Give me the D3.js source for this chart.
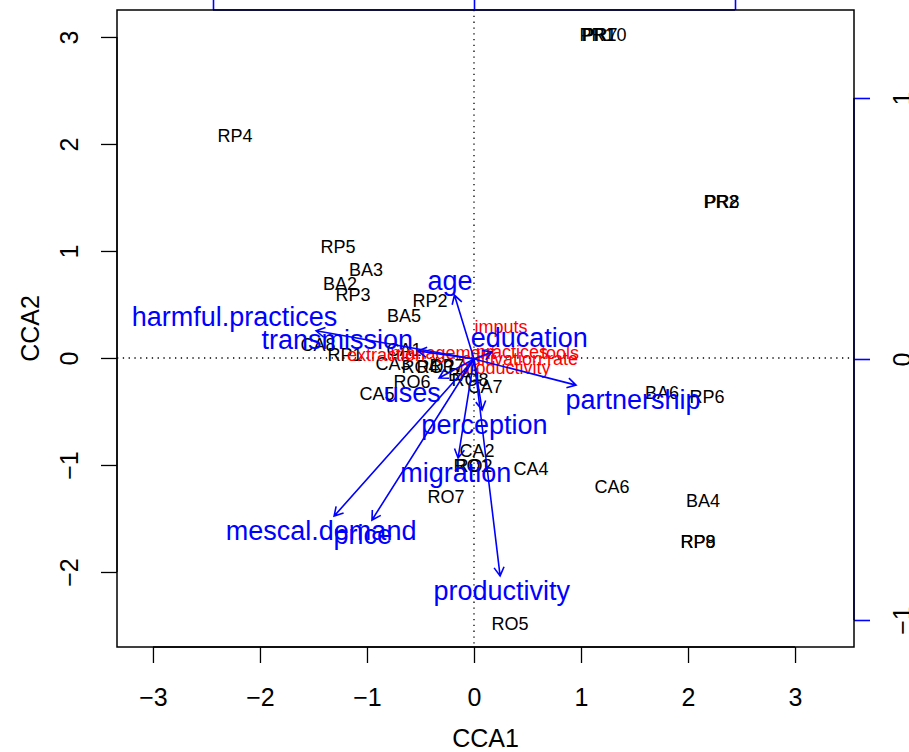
<!DOCTYPE html>
<html>
<head>
<meta charset="utf-8">
<script src="https://cdn.jsdelivr.net/npm/d3@7"></script>
<style>
  body { margin: 0; background: #fff; }
  text { font-family: "Liberation Sans", Arial, Helvetica, sans-serif; }
</style>
</head>
<body>
<svg id="cca-plot" width="909" height="752"></svg>
<script>
// site scores (black)
var siteNames = ["RP4","PR1","PR7","PR10","PR2","PR8","RP5","BA3","BA2","RP3","RP2","BA5",
  "CA8","RP1","CA1","CA3","RO4","RO3","RP7","BA1","RO8","CA7","RO6","CA5",
  "CA2","RO1","RO2","CA4","RO7","CA6","BA6","RP6","BA4","RP8","RP9","RO5"];
var siteCCA1 = [-2.234, 1.150, 1.178, 1.215, 2.308, 2.318, -1.271, -1.009, -1.252, -1.131, -0.411, -0.654,
  -1.458, -1.206, -0.654, -0.757, -0.505, -0.364, -0.252, -0.084, -0.037, 0.103, -0.579, -0.907,
  0.028, -0.019, 0.000, 0.533, -0.262, 1.290, 1.757, 2.178, 2.140, 2.093, 2.093, 0.336];
var siteCCA2 = [2.075, 3.019, 3.019, 3.019, 1.458, 1.458, 1.037, 0.822, 0.692, 0.589, 0.533, 0.393,
  0.121, 0.028, 0.075, -0.056, -0.084, -0.084, -0.075, -0.159, -0.206, -0.271, -0.224, -0.336,
  -0.869, -1.009, -1.009, -1.037, -1.299, -1.206, -0.327, -0.364, -1.336, -1.720, -1.720, -2.486];

// species scores (red)
var speciesNames = ["imputs","extraction","management","practices","tools","cultivation.rate","productivity"];
var speciesCCA1 = [0.252, -0.822, -0.290, 0.355, 0.804, 0.430, 0.290];
var speciesCCA2 = [0.290, 0.030, 0.050, 0.056, 0.047, -0.010, -0.093];

// biplot arrows (blue, secondary axes)
var envNames = ["age","harmful.practices","transmission","education","partnership","uses",
  "perception","migration","mescal.demand","price","productivity"];
var envCCA1 = [-0.075, -0.605, -0.215, 0.069, 0.391, -0.134, 0.031, -0.061, -0.536, -0.391, 0.100];
var envCCA2 = [0.245, 0.108, 0.031, 0.027, -0.100, -0.073, -0.195, -0.379, -0.602, -0.617, -0.831];

var xTicks = [-3, -2, -1, 0, 1, 2, 3];
var yTicks = [-2, -1, 0, 1, 2, 3];
var envTicks = [-1, 0, 1];

var svg = d3.select("#cca-plot"),
    box = {left: 117, right: 854, top: 10, bottom: 647},
    blue = "#0000ff", red = "#ff0000",
    bigFont = 27, smallFont = 18;

var x = d3.scaleLinear().domain([-3.336, 3.551]).range([box.left, box.right]),
    y = d3.scaleLinear().domain([-2.701, 3.252]).range([box.bottom, box.top]),
    xb = d3.scaleLinear().domain([-1, 1]).range([213, 735]),
    yb = d3.scaleLinear().domain([-1, 1]).range([620, 98]);

var minus = function(d) { return d < 0 ? "\u2212" + Math.abs(d) : String(d); };

// dotted zero lines
svg.append("line")
  .attr("x1", box.left).attr("x2", box.right).attr("y1", y(0)).attr("y2", y(0))
  .attr("stroke", "#000").attr("stroke-width", 1.3).attr("stroke-dasharray", "1.3,4.5");
svg.append("line")
  .attr("x1", x(0)).attr("x2", x(0)).attr("y1", box.top).attr("y2", box.bottom)
  .attr("stroke", "#000").attr("stroke-width", 1.3).attr("stroke-dasharray", "1.3,4.5");

// bottom axis
var gx = svg.append("g").attr("transform", "translate(0," + box.bottom + ")")
  .call(d3.axisBottom(x).tickValues(xTicks).tickSize(16).tickSizeOuter(0).tickFormat(minus));
gx.select(".domain").attr("d", "M" + x(-3) + ",0H" + x(3));
gx.selectAll("line, path").attr("stroke", "#000").attr("stroke-width", 1.3);
gx.selectAll("text").attr("y", 50).attr("dy", "0.35em").attr("font-size", 25)
  .attr("fill", "#000");

// left axis, rotated labels
var gy = svg.append("g").attr("transform", "translate(" + box.left + ",0)")
  .call(d3.axisLeft(y).tickValues(yTicks).tickSize(16).tickSizeOuter(0).tickFormat(minus));
gy.select(".domain").attr("d", "M0," + y(-2) + "V" + y(3));
gy.selectAll("line, path").attr("stroke", "#000").attr("stroke-width", 1.3);
gy.selectAll("text")
  .attr("transform", "rotate(-90)").attr("x", 0).attr("y", -48).attr("dy", "0.35em")
  .attr("text-anchor", "middle").attr("font-size", 25).attr("fill", "#000");

// top blue axis (its labels fall outside the picture)
var gt = svg.append("g").attr("transform", "translate(0," + box.top + ")")
  .call(d3.axisTop(xb).tickValues(envTicks).tickSize(16).tickSizeOuter(0).tickFormat(""));
gt.select(".domain").attr("d", "M" + xb(-1) + ",0H" + xb(1));
gt.selectAll("line, path").attr("stroke", blue).attr("stroke-width", 1.6);
gt.selectAll("text").remove();

// right blue axis, rotated labels
var gr = svg.append("g").attr("transform", "translate(" + box.right + ",0)")
  .call(d3.axisRight(yb).tickValues(envTicks).tickSize(16).tickSizeOuter(0).tickFormat(minus));
gr.select(".domain").attr("d", "M0," + yb(-1) + "V" + yb(1));
gr.selectAll("line, path").attr("stroke", blue).attr("stroke-width", 1.6);
gr.selectAll("text")
  .attr("transform", "rotate(-90)").attr("x", 0).attr("y", 48).attr("dy", "0.35em")
  .attr("text-anchor", "middle").attr("font-size", 25).attr("fill", "#000");

// frame
svg.append("rect")
  .attr("x", box.left).attr("y", box.top)
  .attr("width", box.right - box.left).attr("height", box.bottom - box.top)
  .attr("fill", "none").attr("stroke", "#000").attr("stroke-width", 1.5);

// axis titles
svg.append("text").attr("x", (box.left + box.right) / 2).attr("y", 738).attr("dy", "0.35em")
  .attr("text-anchor", "middle").attr("font-size", 25).text("CCA1");
svg.append("text").attr("transform", "translate(30," + ((box.top + box.bottom) / 2) + ") rotate(-90)")
  .attr("dy", "0.35em").attr("text-anchor", "middle").attr("font-size", 25).text("CCA2");

// sites
svg.append("g").selectAll("text")
  .data(siteNames).enter().append("text")
  .attr("x", function(d, i) { return x(siteCCA1[i]); })
  .attr("y", function(d, i) { return y(siteCCA2[i]); })
  .attr("dy", "0.35em").attr("text-anchor", "middle")
  .attr("font-size", smallFont).attr("fill", "#000")
  .text(function(d) { return d; });

// species
svg.append("g").selectAll("text")
  .data(speciesNames).enter().append("text")
  .attr("x", function(d, i) { return x(speciesCCA1[i]); })
  .attr("y", function(d, i) { return y(speciesCCA2[i]); })
  .attr("dy", "0.35em").attr("text-anchor", "middle")
  .attr("font-size", smallFont).attr("fill", red)
  .text(function(d) { return d; });

// biplot arrows
var ga = svg.append("g");
var x0 = xb(0), y0 = yb(0), headLen = 10, headAng = Math.PI / 6;
envNames.forEach(function(name, i) {
  var tx = xb(envCCA1[i]), ty = yb(envCCA2[i]);
  var ang = Math.atan2(ty - y0, tx - x0);
  var path = "M" + x0 + "," + y0 + "L" + tx + "," + ty +
    "M" + (tx - headLen * Math.cos(ang - headAng)) + "," + (ty - headLen * Math.sin(ang - headAng)) +
    "L" + tx + "," + ty +
    "L" + (tx - headLen * Math.cos(ang + headAng)) + "," + (ty - headLen * Math.sin(ang + headAng));
  ga.append("path").attr("d", path).attr("fill", "none")
    .attr("stroke", blue).attr("stroke-width", 1.6);
});

// arrow labels, placed beyond tips like vegan's ordiArrowTextXY
var gl = svg.append("g");
envNames.forEach(function(name, i) {
  var lab = gl.append("text").attr("text-anchor", "middle").attr("dy", "0.35em")
    .attr("font-size", bigFont).attr("fill", blue).text(name);
  var w = lab.node().getComputedTextLength(), h = 0.72 * bigFont;
  var dx = xb(envCCA1[i]) - x0, dy = y0 - yb(envCCA2[i]);
  var offX = Math.sign(dx) * (w / 2 + h / 4), offY = 0.75 * h * Math.sign(dy);
  var b = dy / dx, move = offY / b;
  if (isFinite(move) && Math.abs(move) <= Math.abs(offX)) offX = move;
  else offY = b * offX;
  lab.attr("x", xb(envCCA1[i]) + offX).attr("y", yb(envCCA2[i]) - offY);
});
</script>
</body>
</html>
